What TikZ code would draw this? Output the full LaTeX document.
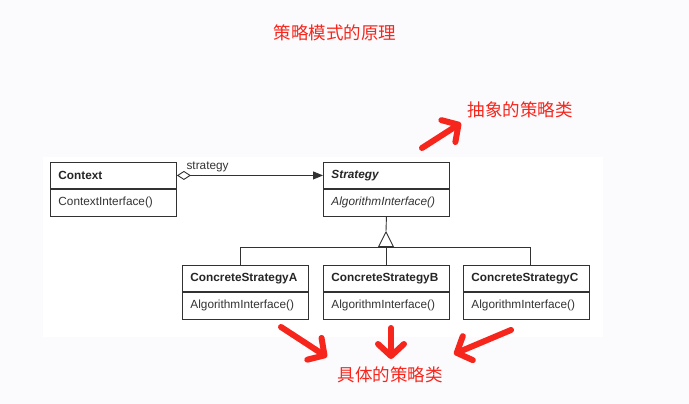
\documentclass[tikz,border=0pt]{standalone}
\usepackage{fontspec}
\setmainfont{Liberation Sans}
\newfontfamily\cjk{Noto Sans CJK SC}
\usetikzlibrary{positioning, arrows.meta}
\definecolor{hintred}{RGB}{246,38,28}
\definecolor{umlgray}{RGB}{50,50,50}
\definecolor{pagetint}{RGB}{251,251,254}
\newcommand{\umlsize}{\fontsize{11.8}{13}\selectfont}
\tikzset{
	classname/.style={shape=rectangle, draw=umlgray, line width=0.9pt, anchor=north west, text width=110pt, inner xsep=8pt, inner ysep=0pt, minimum height=26pt, align=left, text=black!85, font=\umlsize\bfseries},
	classops/.style={shape=rectangle, draw=umlgray, line width=0.9pt, below=0pt of #1, text width=110pt, inner xsep=8pt, inner ysep=0pt, minimum height=27pt, align=left, text=black!80, font=\umlsize},
	umlline/.style={draw=umlgray, line width=0.9pt},
	hint/.style={text=hintred, font=\cjk\fontsize{17.5}{20}\selectfont},
	hintarrow/.style={draw=hintred, line width=6pt, line cap=round, -{Straight Barb[length=12pt, width=26pt, line cap=round, line join=round]}}
}
\begin{document}
\begin{tikzpicture}[x=1pt, y=-1pt]
	% Background:
	\useasboundingbox (0,0) rectangle (689,404);
	\fill[pagetint] (0,0) rectangle (689,404);
	\fill[white] (43,157) rectangle (603,337);
	% Classes:
	\node[classname] (ctx) at (50,162) {Context};
	\node[classops=ctx] (ctxop) {ContextInterface()};
	\node[classname] (strat) at (323,162) {\itshape Strategy};
	\node[classops=strat, execute at begin node=\itshape] (stratop) {AlgorithmInterface()};
	\node[classname] (csa) at (182,265) {ConcreteStrategyA};
	\node[classops=csa] (csaop) {AlgorithmInterface()};
	\node[classname] (csb) at (323,265) {ConcreteStrategyB};
	\node[classops=csb] (csbop) {AlgorithmInterface()};
	\node[classname] (csc) at (463,265) {ConcreteStrategyC};
	\node[classops=csc] (cscop) {AlgorithmInterface()};
	% Wires:
	\draw[umlline, {Diamond[open, length=14pt, width=9pt]}-{Triangle[length=10pt, width=8pt]}] (ctx.east) -- node[pos=0.21, above, text=black!80, font=\umlsize]{strategy} (strat.west);
	\coordinate (apex) at (386,231);
	\coordinate (hub) at (386,247);
	\coordinate (busa) at (240,247);
	\coordinate (busc) at (530,247);
	\draw[umlline] (stratop.south) -- (apex);
	\draw[umlline, -{Triangle[open, length=16pt, width=16pt]}] (hub) -- (apex);
	\draw[umlline] (busa |- csa.north) -- (busa) -- (busc) -- (busc |- csc.north);
	\draw[umlline] (hub) -- (hub |- csb.north);
	% Notes:
	\node[hint] (title) at (335,33) {策略模式的原理};
	\node[hint] (abstract) at (520,110) {抽象的策略类};
	\node[hint] (concrete) at (390,375) {具体的策略类};
	\coordinate (abstail) at (422,148);
	\coordinate (abshead) at (461,123);
	\draw[hintarrow] (abstail) -- (abshead);
	\coordinate (tailA) at (281,327);
	\coordinate (headA) at (327,357);
	\draw[hintarrow] (tailA) -- (headA);
	\coordinate (tailB) at (391,328);
	\coordinate (headB) at (391,359);
	\draw[hintarrow] (tailB) -- (headB);
	\coordinate (tailC) at (511,330);
	\coordinate (headC) at (454,354);
	\draw[hintarrow] (tailC) -- (headC);
\end{tikzpicture}
\end{document}
